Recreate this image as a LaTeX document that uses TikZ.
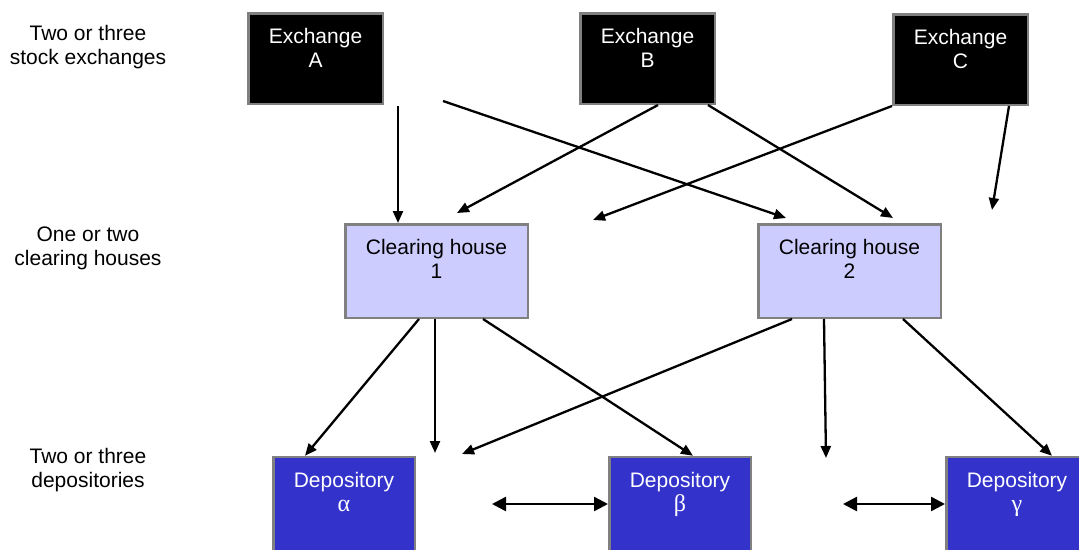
\documentclass[tikz,border=0pt]{standalone}
\usepackage{fontspec}
\setmainfont{Liberation Sans}
\newfontfamily\greekfont{Liberation Serif}
\newcommand{\grk}[1]{{\greekfont\fontsize{24}{24}\selectfont #1}}
\usetikzlibrary{arrows.meta}
\definecolor{rim}{RGB}{128,128,128}
\definecolor{chfill}{RGB}{204,204,255}
\definecolor{depfill}{RGB}{51,51,204}

\begin{document}
\begin{tikzpicture}[
    x=1pt, y=-1pt,
    font=\fontsize{21}{24}\selectfont,
    box/.style={draw=rim, line width=2.5pt, rectangle, inner sep=0pt},
    exchange/.style={box, fill=black, minimum width=134.5pt, minimum height=90.5pt},
    clearing/.style={box, fill=chfill, minimum width=182.5pt, minimum height=93.5pt},
    depository/.style={box, fill=depfill, minimum width=141.5pt, minimum height=100pt},
    boxtext/.style={anchor=north, align=center, inner sep=0pt, yshift=-16pt},
    tier/.style={anchor=north, align=center, inner sep=0pt},
    flow/.style={-{Triangle[length=12pt,width=10pt]}, line width=2.3pt},
    link/.style={{Triangle[length=14pt,width=14pt]}-{Triangle[length=14pt,width=14pt]}, line width=2.5pt}
]
\useasboundingbox (0,0) rectangle (1079,549);

\node[tier] (t1) at (88,25) {Two or three\\stock exchanges};
\node[tier] (t2) at (88,227) {One or two\\clearing houses};
\node[tier] (t3) at (88,448) {Two or three\\depositories};

\node[exchange, label={[boxtext, white]north:{Exchange\\A}}] (exA) at (315.5,58.5) {};
\node[exchange, label={[boxtext, white]north:{Exchange\\B}}] (exB) at (647.5,58.5) {};
\node[exchange, label={[boxtext, white]north:{Exchange\\C}}] (exC) at (960.5,59.5) {};

\node[clearing, label={[boxtext]north:{Clearing house\\1}}] (ch1) at (436.5,271) {};
\node[clearing, label={[boxtext]north:{Clearing house\\2}}] (ch2) at (849.5,271) {};

\node[depository, label={[boxtext, white]north:{Depository\\\grk{α}}}] (depA) at (344,507) {};
\node[depository, label={[boxtext, white]north:{Depository\\\grk{β}}}] (depB) at (680,507) {};
\node[depository, label={[boxtext, white]north:{Depository\\\grk{γ}}}] (depG) at (1017,507) {};

\coordinate (a1) at (398,106);
\coordinate (a2) at (443,101);
\coordinate (c1) at (593,220);
\coordinate (c2) at (992,210);
\coordinate (h1) at (435,453);
\coordinate (h2) at (462,454);
\coordinate (h3) at (826,458);
\coordinate (d1) at (492,504);
\coordinate (d2) at (843,504);

\draw[flow] (a1) -- ([xshift=-38.5pt]ch1.north);
\draw[flow] (a2) -- ([xshift=-63.5pt,yshift=5pt]ch2.north);
\draw[flow] ([xshift=10.5pt]exB.south) -- ([xshift=20.5pt,yshift=10pt]ch1.north);
\draw[flow] ([xshift=60.5pt]exB.south) -- ([xshift=43.5pt,yshift=5pt]ch2.north);
\draw[flow] (exC.south west) -- (c1);
\draw[flow] ([xshift=48.5pt]exC.south) -- (c2);

\draw[flow] ([xshift=-17.5pt]ch1.south) -- ([xshift=-39pt]depA.north);
\draw[flow] ([xshift=-1.5pt]ch1.south) -- (h1);
\draw[flow] ([xshift=46.5pt]ch1.south) -- ([xshift=13pt]depB.north);
\draw[flow] ([xshift=-57.5pt]ch2.south) -- (h2);
\draw[flow] ([xshift=-25.5pt]ch2.south) -- (h3);
\draw[flow] ([xshift=53.5pt]ch2.south) -- ([xshift=35pt]depG.north);

\draw[link] (d1) -- ([yshift=3pt]depB.west);
\draw[link] (d2) -- ([yshift=3pt]depG.west);

\end{tikzpicture}
\end{document}
